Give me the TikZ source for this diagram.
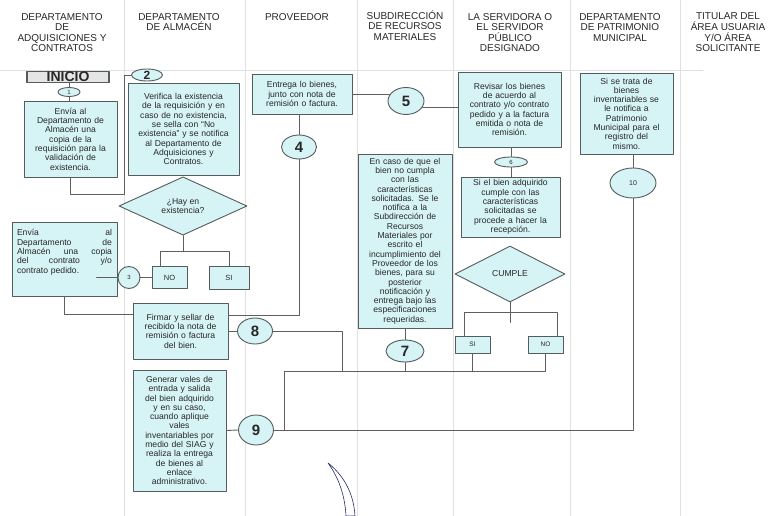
\documentclass[tikz,border=0pt]{standalone}
\usepackage{fontspec}
\setmainfont{Liberation Sans}
\usetikzlibrary{shapes.geometric}
\definecolor{boxfill}{RGB}{214,243,245}
\definecolor{edge}{RGB}{85,92,92}
\definecolor{wire}{RGB}{95,95,95}
\definecolor{ink}{RGB}{40,40,40}
\definecolor{navy}{RGB}{40,45,110}

\begin{document}
\begin{tikzpicture}[x=1pt, y=-1pt, line join=round, line cap=round,
    box/.style={rectangle, draw=edge, fill=boxfill, line width=0.9pt, inner sep=0pt, align=center, text=ink, font=\fontsize{8.6}{9.3}\selectfont},
    conn/.style={ellipse, draw=edge, fill=boxfill, line width=0.9pt, inner sep=0pt, text=ink},
    dec/.style={diamond, draw=edge, fill=boxfill, line width=0.9pt, inner sep=0pt, align=center, text=ink, font=\fontsize{8.6}{9.3}\selectfont},
    opt/.style={rectangle, draw=edge, fill=boxfill, line width=0.9pt, inner sep=0pt, text=ink, font=\fontsize{7.5}{8}\selectfont},
    flow/.style={draw=wire, line width=0.9pt},
    lane/.style={draw=black!12, line width=0.8pt},
    head/.style={anchor=north, align=center, text=ink, font=\fontsize{10}{10.6}\selectfont},
    big/.style={font=\fontsize{15}{15}\selectfont\bfseries},
    tiny/.style={font=\fontsize{6}{6}\selectfont}]

\useasboundingbox (0,0) rectangle (769,516);
\fill[white] (0,0) rectangle (769,516);

% carriles
\foreach \x in {124,245,357,453,570,680}
  \draw[lane] (\x,0) -- (\x,516);
\draw[lane] (0,70) -- (703,70);

% encabezados
\node[head] (h1) at (62,9.5) {DEPARTAMENTO\\DE\\ADQUISICIONES Y\\CONTRATOS};
\node[head] (h2) at (179,9.5) {DEPARTAMENTO\\DE ALMACÉN};
\node[head] (h3) at (297,9.5) {PROVEEDOR};
\node[head] (h4) at (405,7) {SUBDIRECCIÓN\\DE RECURSOS\\MATERIALES};
\node[head] (h5) at (510,9.5) {LA SERVIDORA O\\EL SERVIDOR\\PÚBLICO\\DESIGNADO};
\node[head] (h6) at (620,9.5) {DEPARTAMENTO\\DE PATRIMONIO\\MUNICIPAL};
\node[head] (h7) at (728,9.5) {TITULAR DEL\\ÁREA USUARIA\\Y/O ÁREA\\SOLICITANTE};

% adquisiciones
\node[box, minimum width=82pt, minimum height=11pt, fill=gray!20, line width=1.2pt, font=\fontsize{14}{14}\selectfont\bfseries] (inicio) at (68,77) {INICIO};
\node[conn, tiny, minimum width=22pt, minimum height=9pt] (c1) at (69,92) {1};
\node[box, minimum width=93pt, minimum height=76pt, text width=90pt] (envia) at (70.5,139) {Envía al\\Departamento de\\Almacén una\\copia de la\\requisición para la\\validación de\\existencia.};
\node[box, minimum width=105pt, minimum height=74pt, text width=95pt, align=left] (contrato) at (64.5,259) {Envía\hfill al\\Departamento\hfill de\\Almacén\hfill una\hfill copia\\del\hfill contrato\hfill y/o\\contrato pedido.\\[6pt]\mbox{}};
\node[conn, tiny, minimum size=22pt] (c3) at (129,277.5) {3};

% almacen
\node[conn, font=\fontsize{12}{12}\selectfont\bfseries, minimum width=31pt, minimum height=12pt] (c2) at (147,75) {2};
\node[box, minimum width=111pt, minimum height=92pt, text width=107pt] (verifica) at (183.5,129) {Verifica la existencia\\de la requisición y en\\caso de no existencia,\\se sella con “No\\existencia” y se notifica\\al Departamento de\\Adquisiciones y\\Contratos.};
\node[dec, minimum width=128pt, minimum height=56pt] (hay) at (183,206) {¿Hay en\\existencia?};
\node[opt, minimum width=35pt, minimum height=22pt] (no1) at (169.5,277.5) {NO};
\node[opt, minimum width=40pt, minimum height=23pt] (si1) at (229,277.5) {SI};
\node[box, minimum width=95pt, minimum height=56pt, text width=91pt] (firmar) at (180.5,331) {Firmar y sellar de\\recibido la nota de\\remisión o factura\\del bien.};
\node[conn, big, minimum width=35pt, minimum height=26pt] (c8) at (255,331) {8};
\node[box, minimum width=93pt, minimum height=121pt, text width=89pt] (vales) at (179.5,430.5) {Generar vales de\\entrada y salida\\del bien adquirido\\y en su caso,\\cuando aplique\\vales\\inventariables por\\medio del SIAG y\\realiza la entrega\\de bienes al\\enlace\\administrativo.};
\node[conn, big, minimum width=35pt, minimum height=30pt] (c9) at (256,430) {9};

% proveedor
\node[box, minimum width=100pt, minimum height=40pt, text width=96pt] (entrega) at (302,94) {Entrega lo bienes,\\junto con nota de\\remisión o factura.};
\node[conn, big, minimum width=35pt, minimum height=24pt] (c4) at (299,147) {4};

% subdireccion
\node[conn, big, minimum width=36pt, minimum height=27pt] (c5) at (406,101) {5};
\node[box, minimum width=94pt, minimum height=174pt, text width=90pt] (incumple) at (405,241) {En caso de que el\\bien no cumpla\\con las\\características\\solicitadas. Se le\\notifica a la\\Subdirección de\\Recursos\\Materiales por\\escrito el\\incumplimiento del\\Proveedor de los\\bienes, para su\\posterior\\notificación y\\entrega bajo las\\especificaciones\\requeridas.};
\node[conn, big, minimum width=38pt, minimum height=22pt] (c7) at (405,351) {7};

% servidor publico
\node[box, minimum width=103pt, minimum height=75pt, text width=99pt] (revisar) at (509.5,109.5) {Revisar los bienes\\de acuerdo al\\contrato y/o contrato\\pedido y a la factura\\emitida o nota de\\remisión.};
\node[conn, tiny, minimum width=33pt, minimum height=10pt] (c6) at (511,162) {6};
\node[box, minimum width=99pt, minimum height=60pt, text width=95pt] (cumpleok) at (510.5,207) {Si el bien adquirido\\cumple con las\\características\\solicitadas se\\procede a hacer la\\recepción.};
\node[dec, minimum width=110pt, minimum height=56pt] (cumple) at (510,274) {CUMPLE};
\node[opt, minimum width=35pt, minimum height=17pt, font=\fontsize{6.5}{7}\selectfont] (si2) at (472.5,344.5) {SI};
\node[opt, minimum width=35pt, minimum height=17pt, font=\fontsize{6.5}{7}\selectfont] (no2) at (545.5,344.5) {NO};

% patrimonio
\node[box, minimum width=93pt, minimum height=81pt, text width=89pt] (patrimonio) at (626.5,113.5) {Si se trata de\\bienes\\inventariables se\\le notifica a\\Patrimonio\\Municipal para el\\registro del\\mismo.};
\node[conn, font=\fontsize{7}{7}\selectfont, minimum width=46pt, minimum height=30pt] (c10) at (633,183) {10};

% conexiones
\draw[flow] (c1.north |- inicio.south) -- (c1.north);
\draw[flow] (c1.south) -- (c1.south |- envia.north);
\draw[flow] (envia.south) |- (124,194) |- (c2.west);
\draw[flow] (hay.south) -- (hay.south |- 0,251);
\draw[flow] ([xshift=-9.5pt]no1.north) |- (si1.north |- 0,251) -- (si1.north);
\draw[flow] (no1.west) -- (c3.east);
\draw[flow] (c3.west) -- ++(-21,0) coordinate (stub3);
\draw[flow] (contrato.south) |- (firmar.west |- 0,314);
\draw[flow] (c4.north |- entrega.south) -- (c4.north);
\draw[flow] (c4.south) |- (firmar.east |- 0,315);
\draw[flow] (entrega.east |- c5.160) -- (c5.160);
\draw[flow] (c5.340) -- (c5.340 -| revisar.west);
\draw[flow] (revisar.south -| c6.north) -- (c6.north);
\draw[flow] (c6.south) -- (c6.south |- cumpleok.north);
\draw[flow] (cumple.south) -- ++(0,20);
\draw[flow] ([xshift=-8.5pt]si2.north) |- ([xshift=11.5pt]no2.north |- 0,312) -- ([xshift=11.5pt]no2.north);
\draw[flow] (incumple.south) -- (c7.north);
\draw[flow] (c7.south) -- (c7.south |- 0,371);
\draw[flow] (si2.south) -- (si2.south |- 0,371);
\draw[flow] (284,430) -- (284,371) -| (no2.south);
\draw[flow] (firmar.east) -- (c8.west);
\draw[flow] (c8.east) -| (342,371);
\draw[flow] (vales.east) -- (c9.west);
\draw[flow] (c9.east) -| (c10.south);
\draw[flow] (patrimonio.south -| c10.north) -- (c10.north);

% trazo inferior
\draw[draw=navy, fill=white, line width=0.6pt] (328,463) .. controls (347,478) and (354,498) .. (355,516) -- (346,516) .. controls (345,496) and (339,478) .. (328,463) -- cycle;
\end{tikzpicture}
\end{document}
